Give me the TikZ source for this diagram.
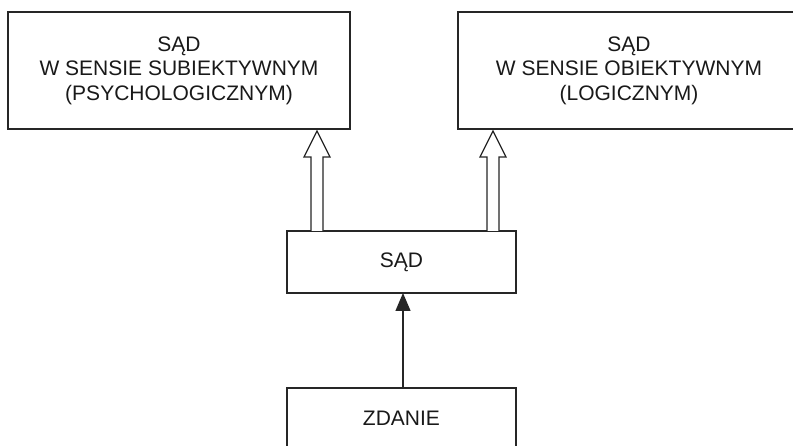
\documentclass[tikz,border=0pt]{standalone}
\usepackage{fontspec}
\setmainfont{Liberation Sans}
\usetikzlibrary{arrows.meta}
\begin{document}
\begin{tikzpicture}[x=1pt,y=-1pt,
  ln/.style={line width=1.3pt,draw=black!85},
  boxtext/.style={font=\fontsize{21}{24.5}\selectfont,align=center,text=black!90},
  hollow/.style={ln,fill=white,line join=miter}]
\useasboundingbox (0,0) rectangle (793,446);
\clip (0,0) rectangle (793,446);
% boxes
\draw[ln] (8,12) rectangle (350,129);
\node[boxtext] (subj) at (179,70.5) {SĄD\\W SENSIE SUBIEKTYWNYM\\(PSYCHOLOGICZNYM)};
\draw[ln] (458,12) rectangle (802,129);
\node[boxtext] (obj) at (629,70.5) {SĄD\\W SENSIE OBIEKTYWNYM\\(LOGICZNYM)};
\draw[ln] (287,231) rectangle (516,293);
\node[boxtext] (sad) at (401.5,262) {SĄD};
\draw[ln] (287,388) rectangle (516,452);
\node[boxtext] (zdanie) at (401.5,418) {ZDANIE};
\coordinate (sadbot) at (403,293);
\coordinate (zdtop) at (403,388);
\draw[ln,-{Triangle[width=15pt,length=18pt]}] (zdtop) -- (sadbot);
% hollow arrows
\foreach \cx/\nm in {317/la,493/ra}{
  \draw[hollow] (\cx-6,231) -- (\cx-6,157) -- (\cx-13,157) -- (\cx,131)
     -- (\cx+13,157) -- (\cx+6,157) -- (\cx+6,231);
}
\end{tikzpicture}
\end{document}
